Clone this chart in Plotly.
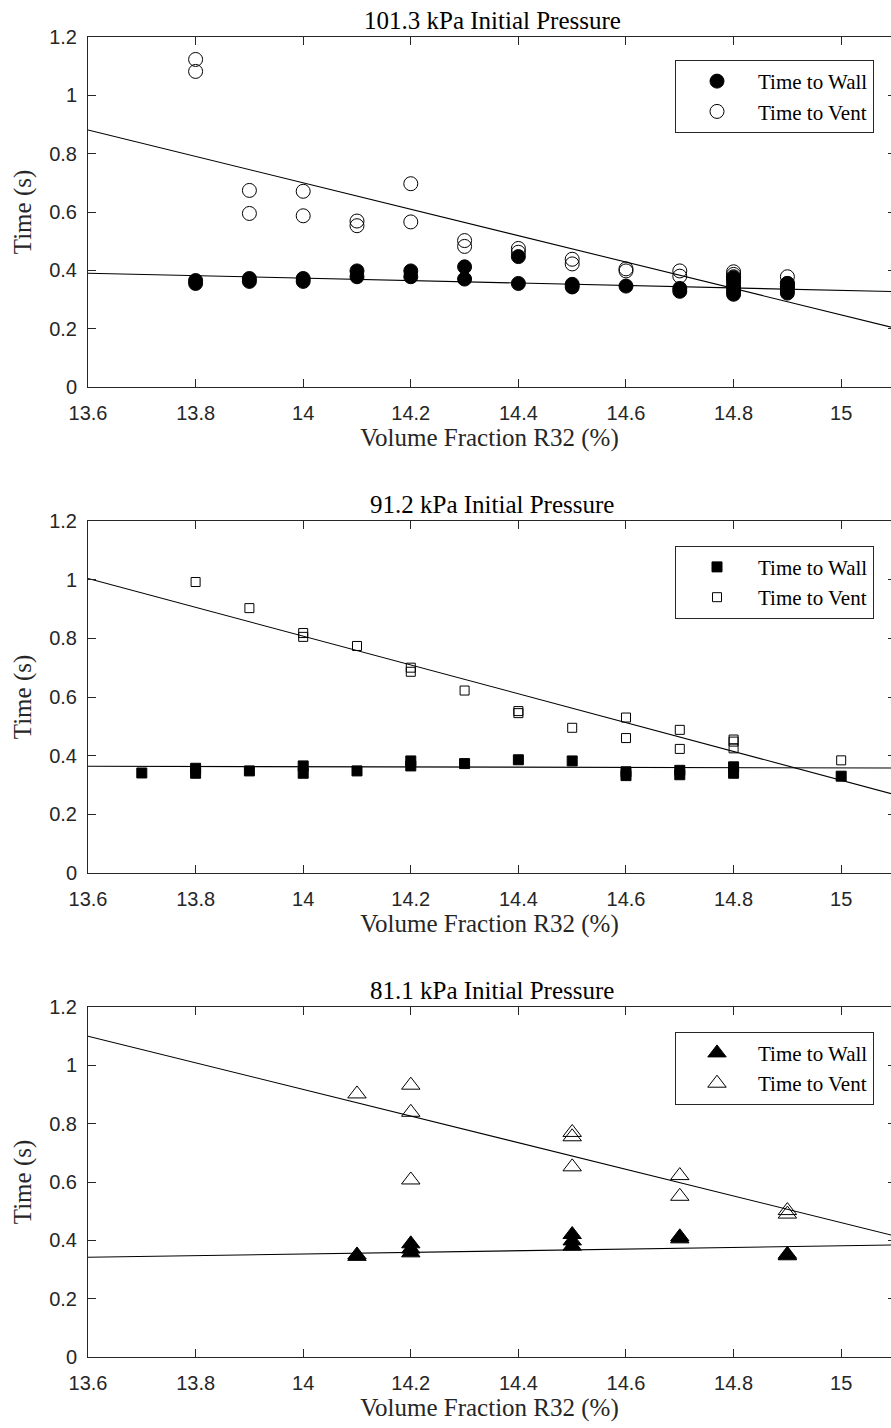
import plotly.graph_objects as go

# ---------------- data ----------------
panel_titles = ["101.3 kPa Initial Pressure", "91.2 kPa Initial Pressure", "81.1 kPa Initial Pressure"]
series_names = ["Time to Wall", "Time to Vent"]

wall_x_101 = [13.8, 13.8, 13.9, 13.9, 14.0, 14.0, 14.1, 14.1, 14.2, 14.2, 14.3, 14.3, 14.4, 14.4,
              14.5, 14.5, 14.6, 14.7, 14.7, 14.8, 14.8, 14.8, 14.8, 14.8, 14.8, 14.9, 14.9, 14.9, 14.9]
wall_y_101 = [0.365, 0.355, 0.372, 0.362, 0.372, 0.362, 0.398, 0.378, 0.398, 0.378, 0.412, 0.370, 0.447, 0.355,
              0.352, 0.343, 0.346, 0.338, 0.328, 0.375, 0.362, 0.350, 0.338, 0.328, 0.318, 0.355, 0.343, 0.333, 0.322]
vent_x_101 = [13.8, 13.8, 13.9, 13.9, 14.0, 14.0, 14.1, 14.1, 14.2, 14.2, 14.3, 14.3, 14.4, 14.4,
              14.5, 14.5, 14.6, 14.6, 14.7, 14.7, 14.8, 14.8, 14.8, 14.8, 14.9, 14.9, 14.9]
vent_y_101 = [1.123, 1.082, 0.674, 0.595, 0.671, 0.587, 0.569, 0.553, 0.697, 0.566, 0.502, 0.482, 0.475, 0.462,
              0.438, 0.422, 0.405, 0.398, 0.398, 0.380, 0.395, 0.386, 0.378, 0.370, 0.378, 0.355, 0.345]

wall_x_91 = [13.7, 13.8, 13.8, 13.9, 14.0, 14.0, 14.1, 14.2, 14.2, 14.3, 14.4, 14.5, 14.6, 14.6, 14.7, 14.7,
             14.8, 14.8, 15.0]
wall_y_91 = [0.341, 0.357, 0.340, 0.348, 0.365, 0.340, 0.348, 0.382, 0.365, 0.373, 0.386, 0.382, 0.345, 0.332,
             0.350, 0.335, 0.362, 0.340, 0.330]
vent_x_91 = [13.8, 13.9, 14.0, 14.0, 14.1, 14.2, 14.2, 14.3, 14.4, 14.4, 14.5, 14.6, 14.6, 14.7, 14.7,
             14.8, 14.8, 14.8, 15.0]
vent_y_91 = [0.992, 0.903, 0.818, 0.805, 0.774, 0.700, 0.686, 0.622, 0.552, 0.545, 0.495, 0.530, 0.460, 0.488,
             0.423, 0.455, 0.448, 0.425, 0.384]

wall_x_81 = [14.1, 14.1, 14.2, 14.2, 14.2, 14.5, 14.5, 14.5, 14.7, 14.7, 14.9, 14.9]
wall_y_81 = [0.350, 0.345, 0.388, 0.370, 0.357, 0.420, 0.398, 0.380, 0.412, 0.405, 0.352, 0.347]
vent_x_81 = [14.1, 14.2, 14.2, 14.2, 14.5, 14.5, 14.5, 14.7, 14.7, 14.9, 14.9]
vent_y_81 = [0.902, 0.932, 0.839, 0.607, 0.770, 0.755, 0.652, 0.622, 0.551, 0.502, 0.490]

# linear fit lines, values at x = 13.6 and x = 15.1
fit_x = [13.6, 15.1]
fit_wall_101 = [0.390, 0.327]
fit_vent_101 = [0.881, 0.202]
fit_wall_91 = [0.364, 0.358]
fit_vent_91 = [1.004, 0.267]
fit_wall_81 = [0.342, 0.384]
fit_vent_81 = [1.100, 0.415]

x_ticks = [13.6, 13.8, 14.0, 14.2, 14.4, 14.6, 14.8, 15.0]
x_ticklabels = ["13.6", "13.8", "14", "14.2", "14.4", "14.6", "14.8", "15"]
y_ticks = [0, 0.2, 0.4, 0.6, 0.8, 1.0, 1.2]
y_ticklabels = ["0", "0.2", "0.4", "0.6", "0.8", "1", "1.2"]

# ---------------- layout constants ----------------
W, H = 891, 1428
ML, MR, MT, MB = 88, 0, 37, 71
AX = "#262626"
SERIF = "Liberation Serif"
SANS = "Liberation Sans"

domains = [[0.73485, 1.0], [0.36667, 0.63333], [0.0, 0.26515]]
legend_tops = [0.9826, 0.6146, 0.2464]

panels = [
    (wall_x_101, wall_y_101, vent_x_101, vent_y_101, fit_wall_101, fit_vent_101,
     dict(symbol="circle", size=14), dict(symbol="circle-open", size=14)),
    (wall_x_91, wall_y_91, vent_x_91, vent_y_91, fit_wall_91, fit_vent_91,
     dict(symbol="square", size=10), dict(symbol="square-open", size=9)),
    (wall_x_81, wall_y_81, vent_x_81, vent_y_81, fit_wall_81, fit_vent_81,
     dict(symbol="triangle-up", size=16), dict(symbol="triangle-up-open", size=16)),
]

fig = go.Figure()
layout = dict(
    width=W, height=H,
    margin=dict(l=ML, r=MR, t=MT, b=MB),
    paper_bgcolor="white", plot_bgcolor="white",
    showlegend=True,
    annotations=[],
)

for i, (wx, wy, vx, vy, fw, fv, mw, mv) in enumerate(panels):
    n = i + 1
    xa = "x" if n == 1 else f"x{n}"
    ya = "y" if n == 1 else f"y{n}"
    leg = "legend" if n == 1 else f"legend{n}"
    yr = f"y{n + 3}"

    fig.add_trace(go.Scatter(x=fit_x, y=fw, mode="lines", line=dict(color="black", width=1.1),
                             xaxis=xa, yaxis=ya, showlegend=False, hoverinfo="skip"))
    fig.add_trace(go.Scatter(x=fit_x, y=fv, mode="lines", line=dict(color="black", width=1.1),
                             xaxis=xa, yaxis=ya, showlegend=False, hoverinfo="skip"))
    fig.add_trace(go.Scatter(x=wx, y=wy, mode="markers", name=series_names[0], legend=leg,
                             marker=dict(color="black", line=dict(color="black", width=1), **mw),
                             xaxis=xa, yaxis=ya))
    fig.add_trace(go.Scatter(x=vx, y=vy, mode="markers", name=series_names[1], legend=leg,
                             marker=dict(color="black", line=dict(color="black", width=1), **mv),
                             xaxis=xa, yaxis=ya))
    # empty trace to carry the right-hand tick axis
    fig.add_trace(go.Scatter(x=[], y=[], xaxis=xa, yaxis=yr, showlegend=False, hoverinfo="skip"))

    xkey = "xaxis" if n == 1 else f"xaxis{n}"
    ykey = "yaxis" if n == 1 else f"yaxis{n}"
    layout[xkey] = dict(
        domain=[0, 1], anchor=ya, range=[13.6, 15.0926],
        tickvals=x_ticks, ticktext=x_ticklabels,
        ticks="inside", ticklen=8, tickwidth=1, tickcolor=AX,
        showline=True, linecolor=AX, linewidth=1, mirror="ticks",
        showgrid=False, zeroline=False, ticklabelstandoff=8,
        tickfont=dict(family=SANS, size=20, color=AX),
        title=dict(text="Volume Fraction R32 (%)", font=dict(family=SERIF, size=25, color=AX), standoff=3),
    )
    layout[ykey] = dict(
        domain=domains[i], anchor=xa, range=[0, 1.2],
        tickvals=y_ticks, ticktext=y_ticklabels,
        ticks="inside", ticklen=8, tickwidth=1, tickcolor=AX,
        showline=True, linecolor=AX, linewidth=1,
        showgrid=False, zeroline=False, ticklabelstandoff=6,
        tickfont=dict(family=SANS, size=20, color=AX),
        title=dict(text="Time (s)", font=dict(family=SERIF, size=25, color=AX), standoff=10),
    )
    layout[f"yaxis{n + 3}"] = dict(
        overlaying=ya, side="right", anchor=xa, range=[0, 1.2],
        tickvals=y_ticks, ticks="inside", ticklen=3, tickwidth=1, tickcolor=AX,
        showticklabels=False, showline=False, showgrid=False, zeroline=False,
    )
    layout[leg] = dict(
        x=(874 - ML) / (W - ML), xanchor="right", y=legend_tops[i], yanchor="top",
        bordercolor=AX, borderwidth=1, bgcolor="white",
        font=dict(family=SERIF, size=21, color="black"),
        itemwidth=72, tracegroupgap=0,
    )
    layout["annotations"].append(dict(
        text=panel_titles[i], xref="paper", yref="paper",
        x=(492 - ML) / (W - ML), y=domains[i][1], xanchor="center", yanchor="bottom",
        yshift=1, showarrow=False, font=dict(family=SERIF, size=25, color="black"),
    ))

fig.update_layout(**layout)
fig.write_html("out.html")
